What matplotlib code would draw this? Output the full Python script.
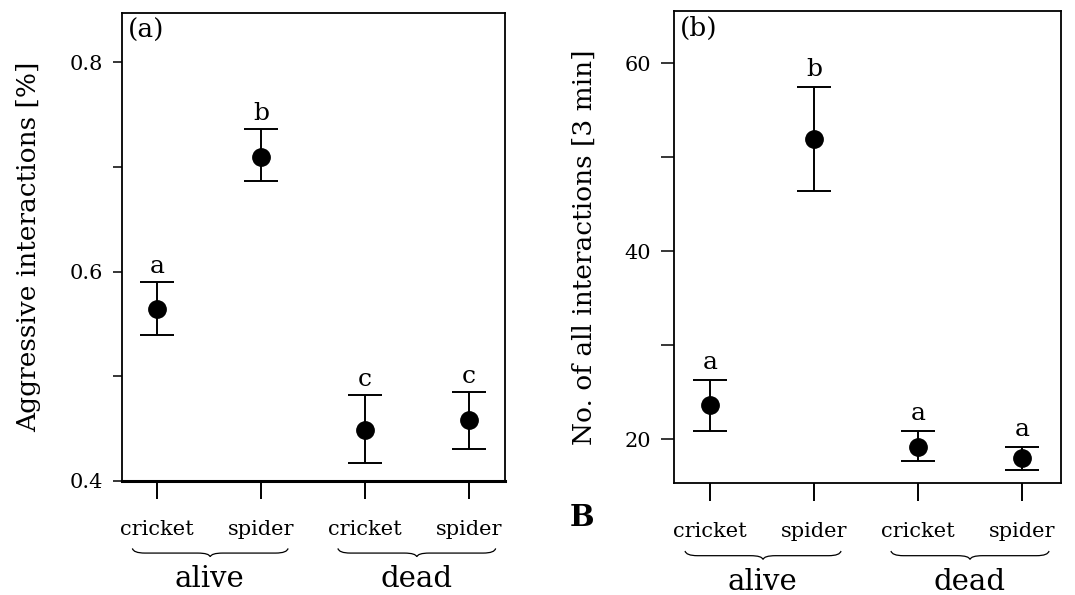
import numpy as np
import matplotlib
matplotlib.use("Agg")
import matplotlib.pyplot as plt
from matplotlib.path import Path
from matplotlib.patches import PathPatch
import matplotlib.transforms as mtrans

plt.rcParams['font.family'] = ['DejaVu Serif']

# --- data ---
positions = [1, 2, 3, 4]
prey = ["cricket", "spider", "cricket", "spider"]
groups = ["alive", "dead"]

aggr_mean = [0.564, 0.709, 0.449, 0.458]
aggr_low = [0.539, 0.687, 0.417, 0.431]
aggr_high = [0.590, 0.736, 0.482, 0.485]
aggr_letters = ["a", "b", "c", "c"]

inter_mean = [23.6, 51.9, 19.2, 18.0]
inter_low = [20.9, 46.4, 17.7, 16.7]
inter_high = [26.3, 57.5, 20.9, 19.2]
inter_letters = ["a", "b", "a", "a"]

W, H = 1075, 595
fig = plt.figure(figsize=(W / 100, H / 100), dpi=100)


def brace(ax, x0, x1, y, h):
    # curly brace in data-x / axes-y coordinates
    trans = mtrans.blended_transform_factory(ax.transData, ax.transAxes)
    xm = (x0 + x1) / 2
    d = 0.12
    yb = y - h
    for xe, s in ((x0, 1), (x1, -1)):
        verts = [(xe, y), (xe + s * 0.01, yb), (xe + s * d, yb),
                 (xm - s * d, yb), (xm - s * 0.01, yb), (xm, y - h * 1.8)]
        codes = [Path.MOVETO, Path.CURVE3, Path.CURVE3, Path.LINETO,
                 Path.CURVE3, Path.CURVE3]
        p = PathPatch(Path(verts, codes), transform=trans, fill=False, lw=0.9,
                      color='black', clip_on=False)
        ax.add_patch(p)


def panel(rect, mean, low, high, letters, ylim, yticks, yticklabels, ylabel,
          tag, letter_off, ytick_len, xlim, lpad):
    ax = fig.add_axes(rect)
    mean = np.array(mean)
    yerr = [mean - np.array(low), np.array(high) - mean]
    ax.errorbar(positions, mean, yerr=yerr, fmt='o', color='black', ms=12.5,
                capsize=12, capthick=1.4, elinewidth=1.4)
    for x, hi, lab in zip(positions, high, letters):
        ax.text(x, hi + letter_off, lab, ha='center', va='bottom', fontsize=18)
    ax.set_xlim(*xlim)
    ax.set_ylim(*ylim)
    ax.set_yticks(yticks)
    ax.set_yticklabels(yticklabels, fontsize=15)
    ax.set_xticks(positions)
    ax.set_xticklabels(prey, fontsize=15)
    ax.tick_params(axis='x', length=13, width=1.4, pad=15)
    ax.tick_params(axis='y', length=ytick_len, width=1.1, pad=7)
    ax.set_ylabel(ylabel, fontsize=19, labelpad=lpad)
    for s in ax.spines.values():
        s.set_linewidth(1.3)
    ax.text(0.015, 0.99, tag, transform=ax.transAxes, ha='left', va='top',
            fontsize=19)
    # group braces and names
    brace(ax, 0.76, 2.26, -0.144, 0.01)
    brace(ax, 2.74, 4.26, -0.144, 0.01)
    trans = mtrans.blended_transform_factory(ax.transData, ax.transAxes)
    for gx, g in zip([1.5, 3.5], groups):
        ax.text(gx, -0.21, g, transform=trans, ha='center', va='center',
                fontsize=21)
    return ax


ax1 = panel([122 / W, 1 - 481 / H, 383 / W, 468 / H],
            aggr_mean, aggr_low, aggr_high, aggr_letters,
            (0.4, 0.847), [0.4, 0.5, 0.6, 0.7, 0.8], ["0.4", "", "0.6", "", "0.8"],
            "Aggressive interactions [%]", "(a)", 0.004, 6.5, (0.66, 4.35), 21)
ax1.spines['bottom'].set_linewidth(2.2)

ax2 = panel([674 / W, 1 - 483 / H, 387 / W, 472 / H],
            inter_mean, inter_low, inter_high, inter_letters,
            (15.33, 65.56), [20, 30, 40, 50, 60], ["20", "", "40", "", "60"],
            "No. of all interactions [3 min]", "(b)", 0.6, 9.5, (0.654, 4.375), 20)

fig.text(582 / W, 1 - 518 / H, "B", fontsize=21, fontweight='bold',
         ha='center', va='center')

fig.savefig("out.png", dpi=100)
